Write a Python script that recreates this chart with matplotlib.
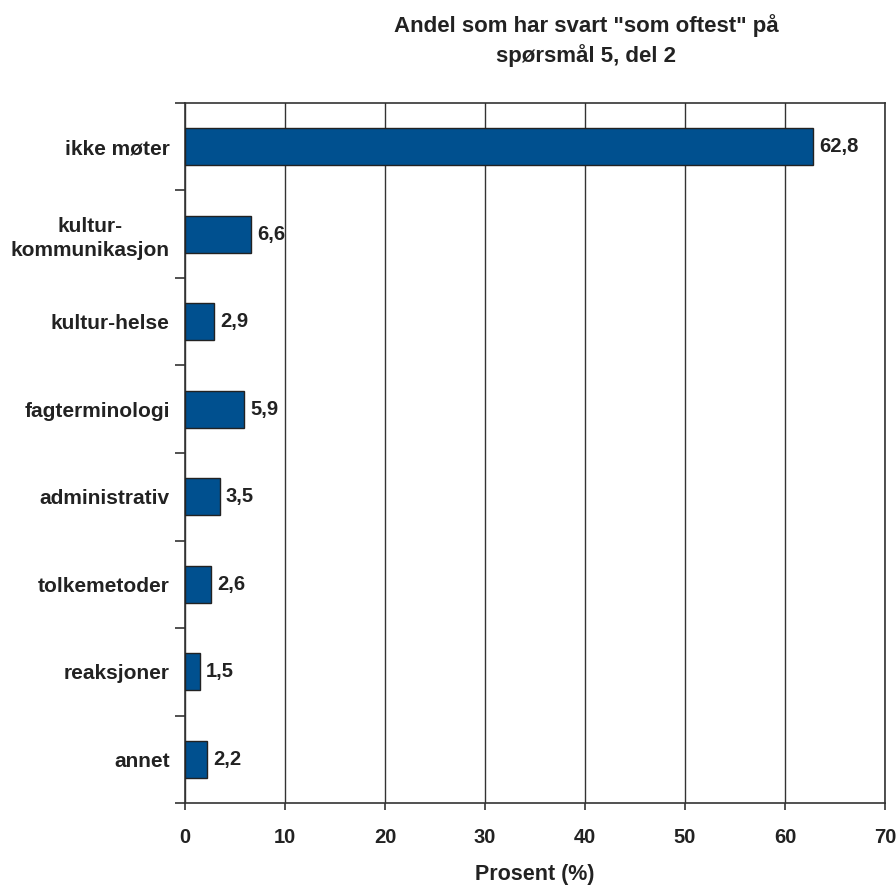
import matplotlib
matplotlib.use("Agg")
import matplotlib.pyplot as plt
import numpy as np

categories = ["ikke møter", "kultur-\nkommunikasjon", "kultur-helse", "fagterminologi",
              "administrativ", "tolkemetoder", "reaksjoner", "annet"]
values = [62.8, 6.6, 2.9, 5.9, 3.5, 2.6, 1.5, 2.2]
xticks = [0, 10, 20, 30, 40, 50, 60, 70]

plt.rcParams['font.family'] = ['Liberation Sans', 'DejaVu Sans']
plt.rcParams['font.weight'] = 'bold'

fig = plt.figure(figsize=(8.96, 8.88), dpi=100)
ax = fig.add_axes([185/896, 1 - 803/888, 700/896, 700/888])

n = len(categories)
pos = np.arange(n)
ax.barh(pos, values, height=0.42, color="#00508F", edgecolor="#222222", linewidth=1.0, zorder=3)

for p, v in zip(pos, values):
    ax.text(v + 0.6, p, f"{v:.1f}".replace(".", ","), va="center", ha="left",
            fontsize=14.5, fontweight="bold", color="#222222")

ax.set_xlim(0, 70)
ax.set_ylim(n - 0.5, -0.5)
ax.set_xticks(xticks)
ax.set_xticklabels([str(t) for t in xticks], fontsize=14.5, fontweight="bold", color="#222222")
ax.set_yticks(pos)
ax.set_yticklabels(categories, fontsize=15, fontweight="bold", color="#222222",
                   multialignment="center", linespacing=1.35)
ax.tick_params(axis="y", which="major", length=0, pad=11)
ax.set_yticks(np.arange(n + 1) - 0.5, minor=True)
ax.tick_params(axis="y", which="minor", length=7, width=1.2, color="#333333")
ax.tick_params(axis="x", length=5, width=1.2, color="#333333", pad=13)

ax.grid(axis="x", color="#333333", linewidth=1.0, zorder=0)
for s in ax.spines.values():
    s.set_color("#333333")
    s.set_linewidth(1.2)

ax.set_xlabel("Prosent (%)", fontsize=15.5, fontweight="bold", color="#222222", labelpad=12)

fig.text(586/896, 1 - 26/888, 'Andel som har svart "som oftest" på', ha="center", va="center",
         fontsize=16, fontweight="bold", color="#222222")
fig.text(586/896, 1 - 56/888, 'spørsmål 5, del 2', ha="center", va="center",
         fontsize=16, fontweight="bold", color="#222222")

fig.savefig("out.png", dpi=100, facecolor="white")
